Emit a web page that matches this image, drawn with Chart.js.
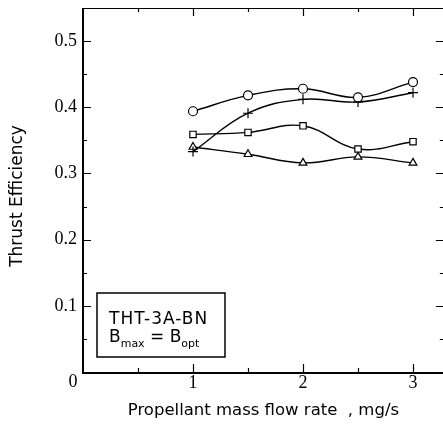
<!DOCTYPE html>
<html lang="en">
<head>
    <meta charset="UTF-8">
    <title>Thrust Efficiency</title>
    <style>
        html, body { margin: 0; padding: 0; background: #fff; overflow: hidden; }
        #wrap { width: 450px; height: 430px; }
    </style>
</head>
<body>
    <div id="wrap">
        <canvas id="chart" width="450" height="430"></canvas>
    </div>

    <script src="https://cdn.jsdelivr.net/npm/chart.js"></script>
    <script>
        // mass flow rate, mg/s
        const flowRates = [1, 1.5, 2, 2.5, 3];
        // thrust efficiency, one list per marker
        const circleEff = [0.394, 0.418, 0.428, 0.415, 0.438];
        const plusEff = [0.333, 0.391, 0.412, 0.408, 0.422];
        const squareEff = [0.359, 0.362, 0.372, 0.337, 0.348];
        const triangleEff = [0.340, 0.329, 0.316, 0.325, 0.316];
        const xTicks = [1, 2, 3];
        const yTicks = [0.1, 0.2, 0.3, 0.4, 0.5];
        const yTitle = 'Thrust Efficiency';
        const boxLines = ['THT-3A-BN', 'B', 'max', ' = B', 'opt'];

        function toPoints(vals) {
            return vals.map((v, i) => ({ x: flowRates[i], y: v }));
        }

        function makeSet(vals, style, radius) {
            return {
                data: toPoints(vals),
                borderColor: '#000',
                borderWidth: 1.4,
                tension: 0.4,
                pointStyle: style,
                pointRadius: radius,
                pointBorderWidth: 1.2,
                pointBackgroundColor: '#fff',
                pointBorderColor: '#000',
                fill: false
            };
        }

        // frame, inward ticks, origin label, y title and the note box
        const framePlugin = {
            id: 'frame',
            beforeDatasetsDraw(chart) {
                const { ctx, chartArea: a, scales } = chart;
                const xs = scales.x, ys = scales.y;
                ctx.save();
                ctx.strokeStyle = '#000';
                ctx.lineWidth = 1;
                ctx.beginPath();
                ctx.moveTo(a.left, a.top + 0.5); ctx.lineTo(a.right, a.top + 0.5);
                ctx.moveTo(a.right, a.top); ctx.lineTo(a.right, a.bottom);
                ctx.stroke();
                ctx.lineWidth = 2;
                ctx.beginPath();
                ctx.moveTo(a.left, a.top); ctx.lineTo(a.left, a.bottom + 1);
                ctx.lineTo(a.right, a.bottom + 1);
                ctx.stroke();

                ctx.lineWidth = 1.2;
                ctx.beginPath();
                for (let v = 0.5; v < 3.3; v += 0.5) {
                    const px = Math.round(xs.getPixelForValue(v)) + 0.5;
                    const len = Number.isInteger(v) ? 8 : 4;
                    ctx.moveTo(px, a.bottom); ctx.lineTo(px, a.bottom - len);
                    ctx.moveTo(px, a.top); ctx.lineTo(px, a.top + len);
                }
                for (let k = 1; k <= 10; k++) {
                    const v = k * 0.05;
                    const py = Math.round(ys.getPixelForValue(v)) + 0.5;
                    const len = k % 2 === 0 ? 8 : 4;
                    ctx.moveTo(a.left, py); ctx.lineTo(a.left + len, py);
                    ctx.moveTo(a.right, py); ctx.lineTo(a.right - len, py);
                }
                ctx.stroke();

                ctx.fillStyle = '#000';
                ctx.font = '18px "Liberation Serif"';
                ctx.textAlign = 'center';
                ctx.textBaseline = 'middle';
                ctx.fillText('0', xs.getPixelForValue(0) - 10, a.bottom + 10);

                // y title, a bit below the middle of the plot like the original
                ctx.save();
                ctx.translate(18, (a.top + a.bottom) / 2 + 6);
                ctx.rotate(-Math.PI / 2);
                ctx.font = '17px "DejaVu Sans"';
                ctx.fillText(yTitle, 0, 0);
                ctx.restore();

                // note box
                const bx = a.left + 14, by = a.top + 285;
                ctx.lineWidth = 1.5;
                ctx.strokeRect(bx, by, 128, 64);
                ctx.textAlign = 'left';
                ctx.textBaseline = 'alphabetic';
                ctx.font = '17px "DejaVu Sans"';
                ctx.letterSpacing = '1px';
                ctx.fillText(boxLines[0], bx + 12, by + 31);
                ctx.letterSpacing = '0px';
                let tx = bx + 12;
                const base = by + 49;
                ctx.fillText(boxLines[1], tx, base);
                tx += ctx.measureText(boxLines[1]).width;
                ctx.font = '11px "DejaVu Sans"';
                ctx.fillText(boxLines[2], tx, base + 5);
                tx += ctx.measureText(boxLines[2]).width;
                ctx.font = '17px "DejaVu Sans"';
                ctx.fillText(boxLines[3], tx, base);
                tx += ctx.measureText(boxLines[3]).width;
                ctx.font = '11px "DejaVu Sans"';
                ctx.fillText(boxLines[4], tx, base + 5);
                ctx.restore();
            }
        };

        new Chart(document.getElementById('chart'), {
            type: 'line',
            data: {
                datasets: [
                    makeSet(circleEff, 'circle', 4.5),
                    makeSet(plusEff, 'cross', 5),
                    makeSet(squareEff, 'rect', 4.5),
                    makeSet(triangleEff, 'triangle', 4.5)
                ]
            },
            options: {
                responsive: false,
                animation: false,
                layout: { padding: { top: 8, right: 6, left: 0, bottom: 0 } },
                plugins: { legend: { display: false }, tooltip: { enabled: false } },
                scales: {
                    x: {
                        type: 'linear',
                        min: 0,
                        max: 3.28,
                        afterFit: s => { s.height = 58; s.paddingLeft = 0; s.paddingRight = 0; },
                        grid: { display: false, drawTicks: false },
                        border: { display: false },
                        afterBuildTicks: s => { s.ticks = xTicks.map(v => ({ value: v })); },
                        ticks: {
                            color: '#000',
                            padding: 0,
                            font: { family: 'Liberation Serif', size: 18 },
                            callback: v => String(v)
                        },
                        title: {
                            display: true,
                            text: 'Propellant mass flow rate  , mg/s',
                            color: '#000',
                            font: { family: 'DejaVu Sans', size: 16.5 },
                            padding: { top: 0, bottom: 9 }
                        }
                    },
                    y: {
                        min: 0,
                        max: 0.55,
                        afterFit: s => { s.width = 83; s.paddingTop = 0; s.paddingBottom = 0; },
                        grid: { display: false, drawTicks: false },
                        border: { display: false },
                        afterBuildTicks: s => { s.ticks = yTicks.map(v => ({ value: v })); },
                        ticks: {
                            color: '#000',
                            padding: 6,
                            font: { family: 'Liberation Serif', size: 18 },
                            callback: v => v.toFixed(1)
                        },
                        title: { display: false }
                    }
                }
            },
            plugins: [framePlugin]
        });
    </script>
</body>
</html>
